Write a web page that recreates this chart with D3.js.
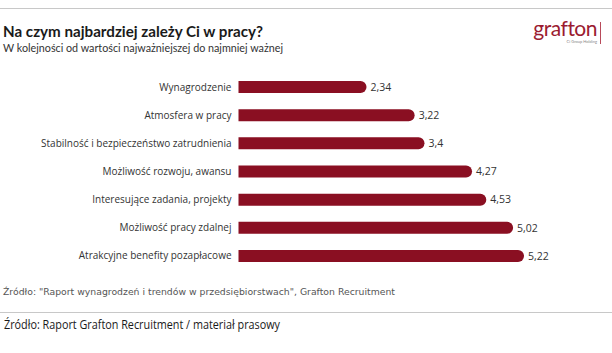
<!DOCTYPE html>
<html>
<head>
<meta charset="utf-8">
<script src="https://cdn.jsdelivr.net/npm/d3@7"></script>
<style>
  body { margin: 0; background: #fff; }
  svg { display: block; }
</style>
</head>
<body>
<div id="chart"></div>
<script>
// Answers, in the order shown on the chart
const categories = [
  'Wynagrodzenie',
  'Atmosfera w pracy',
  'Stabilność i bezpieczeństwo zatrudnienia',
  'Możliwość rozwoju, awansu',
  'Interesujące zadania, projekty',
  'Możliwość pracy zdalnej',
  'Atrakcyjne benefity pozapłacowe'
];
const values = [2.34, 3.22, 3.4, 4.27, 4.53, 5.02, 5.22];
const valueLabels = ['2,34', '3,22', '3,4', '4,27', '4,53', '5,02', '5,22'];

const width = 612, height = 353;
const barColor = '#8a0f22';

const svg = d3.select('#chart').append('svg')
  .attr('width', width)
  .attr('height', height);

// top and bottom separator lines
svg.append('line')
  .attr('x1', 0).attr('x2', width).attr('y1', 8.5).attr('y2', 8.5)
  .attr('stroke', '#c8c8c8').attr('stroke-width', 1);
svg.append('line')
  .attr('x1', 0).attr('x2', width).attr('y1', 312.5).attr('y2', 312.5)
  .attr('stroke', '#c8c8c8').attr('stroke-width', 1);

// Title + subtitle (stretched to the widths in the original)
svg.append('text')
  .attr('x', 3).attr('y', 37)
  .attr('font-family', 'Lato, sans-serif')
  .attr('font-weight', 'bold')
  .attr('font-size', 15)
  .attr('fill', '#1a1a1a')
  .attr('textLength', 260)
  .attr('lengthAdjust', 'spacingAndGlyphs')
  .text('Na czym najbardziej zależy Ci w pracy?');
svg.append('text')
  .attr('x', 3).attr('y', 52)
  .attr('font-family', 'Lato, sans-serif')
  .attr('font-size', 11.5)
  .attr('fill', '#333')
  .attr('textLength', 280)
  .attr('lengthAdjust', 'spacingAndGlyphs')
  .text('W kolejności od wartości najważniejszej do najmniej ważnej');

// Logo
const logo = svg.append('g');
logo.append('text')
  .attr('x', 597).attr('y', 36)
  .attr('text-anchor', 'end')
  .attr('font-family', 'Lato, sans-serif')
  .attr('font-size', 21)
  .attr('fill', '#9b1b30')
  .attr('letter-spacing', -0.5)
  .text('grafton');
logo.append('line')
  .attr('x1', 600.5).attr('x2', 600.5).attr('y1', 22).attr('y2', 44)
  .attr('stroke', '#b84a5a').attr('stroke-width', 1);
logo.append('text')
  .attr('x', 597).attr('y', 43)
  .attr('text-anchor', 'end')
  .attr('font-family', 'Lato, sans-serif')
  .attr('font-size', 4)
  .attr('fill', '#888')
  .text('Ci Group Holding');

// Scales
const x = d3.scaleLinear().domain([0, 1]).range([238.5, 238.5 + 54.7]);
const y = d3.scaleBand()
  .domain(categories)
  .range([72.5, 270.5])
  .paddingInner(0.57)
  .paddingOuter(0.3);

const bh = 12;
const rows = svg.append('g').selectAll('g')
  .data(categories)
  .join('g')
  .attr('transform', d => `translate(0, ${y(d) + y.bandwidth() / 2})`);

// bars with rounded right end, square left end
rows.append('path')
  .attr('fill', barColor)
  .attr('d', (d, i) => {
    const x0 = x(0), x1 = x(values[i]), r = bh / 2;
    return `M${x0},${-r}H${x1 - r}A${r},${r} 0 0 1 ${x1 - r},${r}H${x0}Z`;
  });

rows.append('text')
  .attr('x', x(0) - 7)
  .attr('dy', '0.35em')
  .attr('text-anchor', 'end')
  .attr('font-family', '"Open Sans", sans-serif')
  .attr('font-size', 10)
  .attr('fill', '#333')
  .text(d => d);

rows.append('text')
  .attr('x', (d, i) => x(values[i]) + 4)
  .attr('dy', '0.35em')
  .attr('font-family', '"Open Sans", sans-serif')
  .attr('font-size', 10.5)
  .attr('fill', '#333')
  .text((d, i) => valueLabels[i]);

// Sources
svg.append('text')
  .attr('x', 3).attr('y', 295)
  .attr('font-family', '"DejaVu Sans", sans-serif')
  .attr('font-size', 8.3)
  .attr('fill', '#555')
  .attr('textLength', 392)
  .attr('lengthAdjust', 'spacingAndGlyphs')
  .text('Źródło: "Raport wynagrodzeń i trendów w przedsiębiorstwach",  Grafton Recruitment');
svg.append('text')
  .attr('x', 4).attr('y', 329)
  .attr('font-family', '"Open Sans", sans-serif')
  .attr('font-size', 12.5)
  .attr('fill', '#1a1a1a')
  .attr('textLength', 276)
  .attr('lengthAdjust', 'spacingAndGlyphs')
  .text('Źródło: Raport Grafton Recruitment / materiał prasowy');
</script>
</body>
</html>
